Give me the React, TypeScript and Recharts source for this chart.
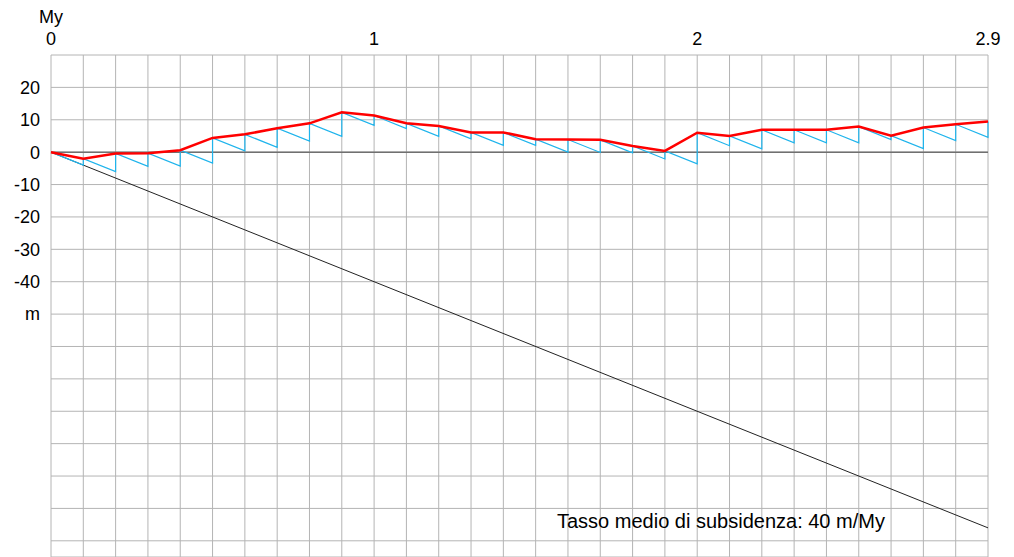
import { ComposedChart, Line, XAxis, YAxis, CartesianGrid, ReferenceLine } from 'recharts';

// time axis (My) and relative sea level at every 0.1 My (m)
const timeMy = [0, 0.1, 0.2, 0.3, 0.4, 0.5, 0.6, 0.7, 0.8, 0.9, 1, 1.1, 1.2, 1.3, 1.4, 1.5, 1.6, 1.7, 1.8, 1.9, 2, 2.1, 2.2, 2.3, 2.4, 2.5, 2.6, 2.7, 2.8, 2.9];
const seaLevel = [0, -2, -0.4, -0.3, 0.6, 4.4, 5.5, 7.4, 8.9, 12.3, 11.3, 8.9, 8.1, 6.1, 6.1, 4.0, 3.9, 3.8, 1.9, 0.4, 6.0, 5.0, 6.9, 6.9, 6.9, 7.9, 5.1, 7.6, 8.6, 9.5];

const subsidenceRate = 40; // m/My

const xLabels = [0, 1, 2, 2.9];
const yTicks = [-120, -110, -100, -90, -80, -70, -60, -50, -40, -30, -20, -10, 0, 10, 20];

const FONT = 'Liberation Sans, Arial, sans-serif';

const redData = timeMy.map((x, i) => ({ x, y: seaLevel[i] }));

// sawtooth: each step subsides linearly, then jumps to the next level
const blueData: { x: number; y: number }[] = [];
timeMy.forEach((x, i) => {
  if (i > 0) {
    const dt = x - timeMy[i - 1];
    blueData.push({ x, y: seaLevel[i - 1] - subsidenceRate * dt });
  }
  blueData.push({ x, y: seaLevel[i] });
});

const lastT = timeMy[timeMy.length - 1];
const subsidenceData = [
  { x: 0, y: 0 },
  { x: lastT, y: -subsidenceRate * lastT },
];

const TopTick = (props: any) => {
  const { x, y, payload } = props;
  const v = payload.value;
  if (!xLabels.includes(v)) return null;
  return (
    <g>
      {v === 0 && (
        <text x={x} y={y - 22} textAnchor="middle" fontSize={18} fontFamily={FONT} fill="#000">
          My
        </text>
      )}
      <text x={x} y={y} textAnchor="middle" fontSize={18} fontFamily={FONT} fill="#000">
        {String(v)}
      </text>
    </g>
  );
};

const yFormat = (v: number) => (v >= -40 ? String(v) : v === -50 ? 'm' : '');

export default function App() {
  return (
    <div style={{ position: 'absolute', left: 0, top: 0, width: 1014, height: 557, background: '#fff' }}>
      <ComposedChart width={1014} height={557} margin={{ top: 0, right: 26, bottom: 0, left: 0 }}>
        <CartesianGrid stroke="#b4b4b4" strokeWidth={1} />
        <XAxis
          dataKey="x"
          type="number"
          orientation="top"
          domain={[0, 2.9]}
          ticks={timeMy}
          height={55}
          axisLine={false}
          tickLine={false}
          tickSize={0}
          tickMargin={10}
          interval={0}
          tick={<TopTick />}
        />
        <YAxis
          type="number"
          domain={[-125, 30]}
          ticks={yTicks}
          width={51}
          axisLine={false}
          tickLine={false}
          tickSize={0}
          tickMargin={11}
          interval={0}
          tickFormatter={yFormat}
          tick={{ fontSize: 18, fontFamily: FONT, fill: '#000' }}
        />
        <ReferenceLine y={0} stroke="#707070" strokeWidth={1.5} />
        <Line data={subsidenceData} dataKey="y" stroke="#222" strokeWidth={1} dot={false} isAnimationActive={false} />
        <Line data={blueData} dataKey="y" stroke="#1fb4ec" strokeWidth={1.2} dot={false} isAnimationActive={false} />
        <Line data={redData} dataKey="y" stroke="#ff0000" strokeWidth={2.5} dot={false} isAnimationActive={false} />
      </ComposedChart>
      <div
        style={{
          position: 'absolute',
          left: 557,
          top: 509,
          fontSize: 20,
          fontFamily: FONT,
          color: '#000',
          whiteSpace: 'nowrap',
          lineHeight: '24px',
        }}
      >
        Tasso medio di subsidenza: 40 m/My
      </div>
    </div>
  );
}
